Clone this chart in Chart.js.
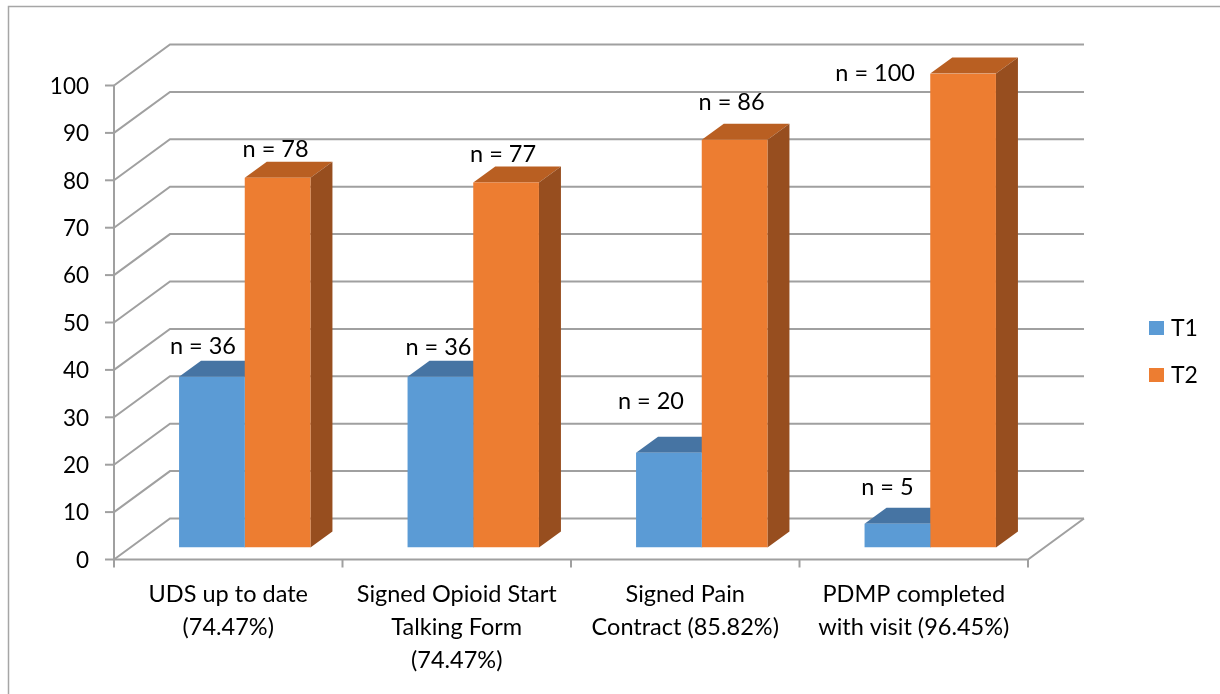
<!DOCTYPE html>
<html>
<head>
<meta charset="utf-8">
<script src="https://cdn.jsdelivr.net/npm/chart.js@4.4.1/dist/chart.umd.min.js"></script>
<style>
    html, body { margin: 0; padding: 0; background: #fff; }
    #wrap { width: 1220px; height: 694px; position: relative; }
</style>
</head>
<body>
<div id="wrap"><canvas id="myChart"></canvas></div>
<script>
// datos
var categorias = [
    ["UDS up to date", "(74.47%)"],
    ["Signed Opioid Start", "Talking Form", "(74.47%)"],
    ["Signed Pain", "Contract (85.82%)"],
    ["PDMP completed", "with visit (96.45%)"]
];
var serieT1 = [36, 36, 20, 5];
var serieT2 = [78, 77, 86, 100];
var etiquetasT1 = ["n = 36", "n = 36", "n = 20", "n = 5"];
var etiquetasT2 = ["n = 78", "n = 77", "n = 86", "n = 100"];
var ticksY = [0, 10, 20, 30, 40, 50, 60, 70, 80, 90, 100];

// colores: frente, tapa, lado
var coloresT1 = ["#5b9bd5", "#4674a3", "#3d6791"];
var coloresT2 = ["#ed7d31", "#b95f22", "#974e1f"];

// planos del efecto 3D, relativos al plano de las barras
var prof = { dx: 22, dy: -16 };
var frente = { dx: -16.5, dy: 12 };
var fondo = { dx: 39.5, dy: -29 };
var gris = "#a0a0a0";
var fuente = "Lato, 'Open Sans', sans-serif";

// desplazamiento de cada etiqueta respecto a la cara frontal de su barra
var offsetsEtiquetas = [
    [[-9, -30], [-2, -29], [-18, -51], [-10, -36]],
    [[-2, -28], [-3, -28], [-3, -37], [-88, 0]]
];

var pared3D = {
    id: "pared3D",
    beforeDatasetsDraw: function (chart) {
        var ctx = chart.ctx;
        var a = chart.chartArea;
        var y = chart.scales.y;
        var x = chart.scales.x;
        var fx = a.left + frente.dx;

        ctx.save();
        // borde exterior
        ctx.strokeStyle = "#a6a6a6";
        ctx.lineWidth = 1.5;
        ctx.beginPath();
        ctx.moveTo(8.5, 700);
        ctx.lineTo(8.5, 6.5);
        ctx.lineTo(1230, 6.5);
        ctx.stroke();

        ctx.strokeStyle = gris;
        ctx.lineWidth = 2;
        // lineas de la pared del fondo y pared izquierda
        ticksY.forEach(function (v) {
            var py = y.getPixelForValue(v);
            ctx.beginPath();
            ctx.moveTo(fx, py + frente.dy);
            ctx.lineTo(a.left + fondo.dx, py + fondo.dy);
            ctx.lineTo(a.right + fondo.dx, py + fondo.dy);
            ctx.stroke();
            // marcas del eje
            ctx.beginPath();
            ctx.moveTo(fx - 9, py + frente.dy);
            ctx.lineTo(fx, py + frente.dy);
            ctx.stroke();
        });
        var y0 = y.getPixelForValue(0);
        var yMax = y.getPixelForValue(ticksY[ticksY.length - 1]);
        // eje vertical frontal
        ctx.beginPath();
        ctx.moveTo(fx, yMax + frente.dy);
        ctx.lineTo(fx, y0 + frente.dy);
        ctx.stroke();
        // piso
        ctx.beginPath();
        ctx.moveTo(fx, y0 + frente.dy);
        ctx.lineTo(a.right + frente.dx, y0 + frente.dy);
        ctx.lineTo(a.right + fondo.dx, y0 + fondo.dy);
        ctx.stroke();
        // marcas del eje x
        var paso = (a.right - a.left) / categorias.length;
        for (var k = 0; k <= categorias.length; k++) {
            var tx = a.left + paso * k + frente.dx;
            ctx.beginPath();
            ctx.moveTo(tx, y0 + frente.dy);
            ctx.lineTo(tx, y0 + frente.dy + 8);
            ctx.stroke();
        }

        // etiquetas del eje y
        ctx.fillStyle = "#000";
        ctx.font = "22.5px " + fuente;
        ctx.textAlign = "right";
        ctx.textBaseline = "middle";
        ticksY.forEach(function (v) {
            ctx.fillText(String(v), fx - 25, y.getPixelForValue(v) + frente.dy + 1);
        });

        // etiquetas de categorias
        ctx.font = "23.5px " + fuente;
        ctx.textAlign = "center";
        categorias.forEach(function (lineas, i) {
            var cx = x.getPixelForValue(i) + frente.dx;
            lineas.forEach(function (t, j) {
                ctx.fillText(t, cx, y0 + frente.dy + 35 + j * 33);
            });
        });

        // tapas y lados de las barras
        chart.data.datasets.forEach(function (ds, d) {
            var meta = chart.getDatasetMeta(d);
            var col = d === 0 ? coloresT1 : coloresT2;
            meta.data.forEach(function (el) {
                var l = el.x - el.width / 2;
                var r = el.x + el.width / 2;
                ctx.fillStyle = col[1];
                ctx.beginPath();
                ctx.moveTo(l, el.y);
                ctx.lineTo(r, el.y);
                ctx.lineTo(r + prof.dx, el.y + prof.dy);
                ctx.lineTo(l + prof.dx, el.y + prof.dy);
                ctx.closePath();
                ctx.fill();
                ctx.fillStyle = col[2];
                ctx.beginPath();
                ctx.moveTo(r, el.y);
                ctx.lineTo(r, el.base);
                ctx.lineTo(r + prof.dx, el.base + prof.dy);
                ctx.lineTo(r + prof.dx, el.y + prof.dy);
                ctx.closePath();
                ctx.fill();
            });
        });
        ctx.restore();
    },
    afterDatasetsDraw: function (chart) {
        var ctx = chart.ctx;
        ctx.save();
        ctx.fillStyle = "#000";
        ctx.font = "23.5px " + fuente;
        ctx.textAlign = "center";
        ctx.textBaseline = "middle";
        [etiquetasT1, etiquetasT2].forEach(function (etiquetas, d) {
            var meta = chart.getDatasetMeta(d);
            meta.data.forEach(function (el, i) {
                var off = offsetsEtiquetas[d][i];
                ctx.fillText(etiquetas[i], el.x + off[0], el.y + off[1]);
            });
        });

        // leyenda
        ctx.font = "23px " + fuente;
        ctx.textAlign = "left";
        chart.data.datasets.forEach(function (ds, d) {
            var ly = 328 + d * 47;
            ctx.fillStyle = ds.backgroundColor;
            ctx.fillRect(1149, ly - 7, 15, 14);
            ctx.fillStyle = "#000";
            ctx.fillText(ds.label, 1171, ly + 1);
        });
        ctx.restore();
    }
};

var ctx = document.getElementById("myChart").getContext("2d");
var myChart = new Chart(ctx, {
    type: "bar",
    data: {
        labels: categorias,
        datasets: [{
            label: "T1",
            data: serieT1,
            backgroundColor: coloresT1[0],
            borderWidth: 0
        }, {
            label: "T2",
            data: serieT2,
            backgroundColor: coloresT2[0],
            borderWidth: 0
        }]
    },
    options: {
        responsive: true,
        maintainAspectRatio: false,
        animation: false,
        layout: {
            padding: { left: 130.5, right: 175.5, top: 73.5, bottom: 146.5 }
        },
        datasets: {
            bar: { categoryPercentage: 0.575, barPercentage: 1 }
        },
        plugins: {
            legend: { display: false },
            tooltip: { enabled: false }
        },
        scales: {
            x: { display: false },
            y: { display: false, min: 0, max: 100 }
        }
    },
    plugins: [pared3D]
});
</script>
</body>
</html>
